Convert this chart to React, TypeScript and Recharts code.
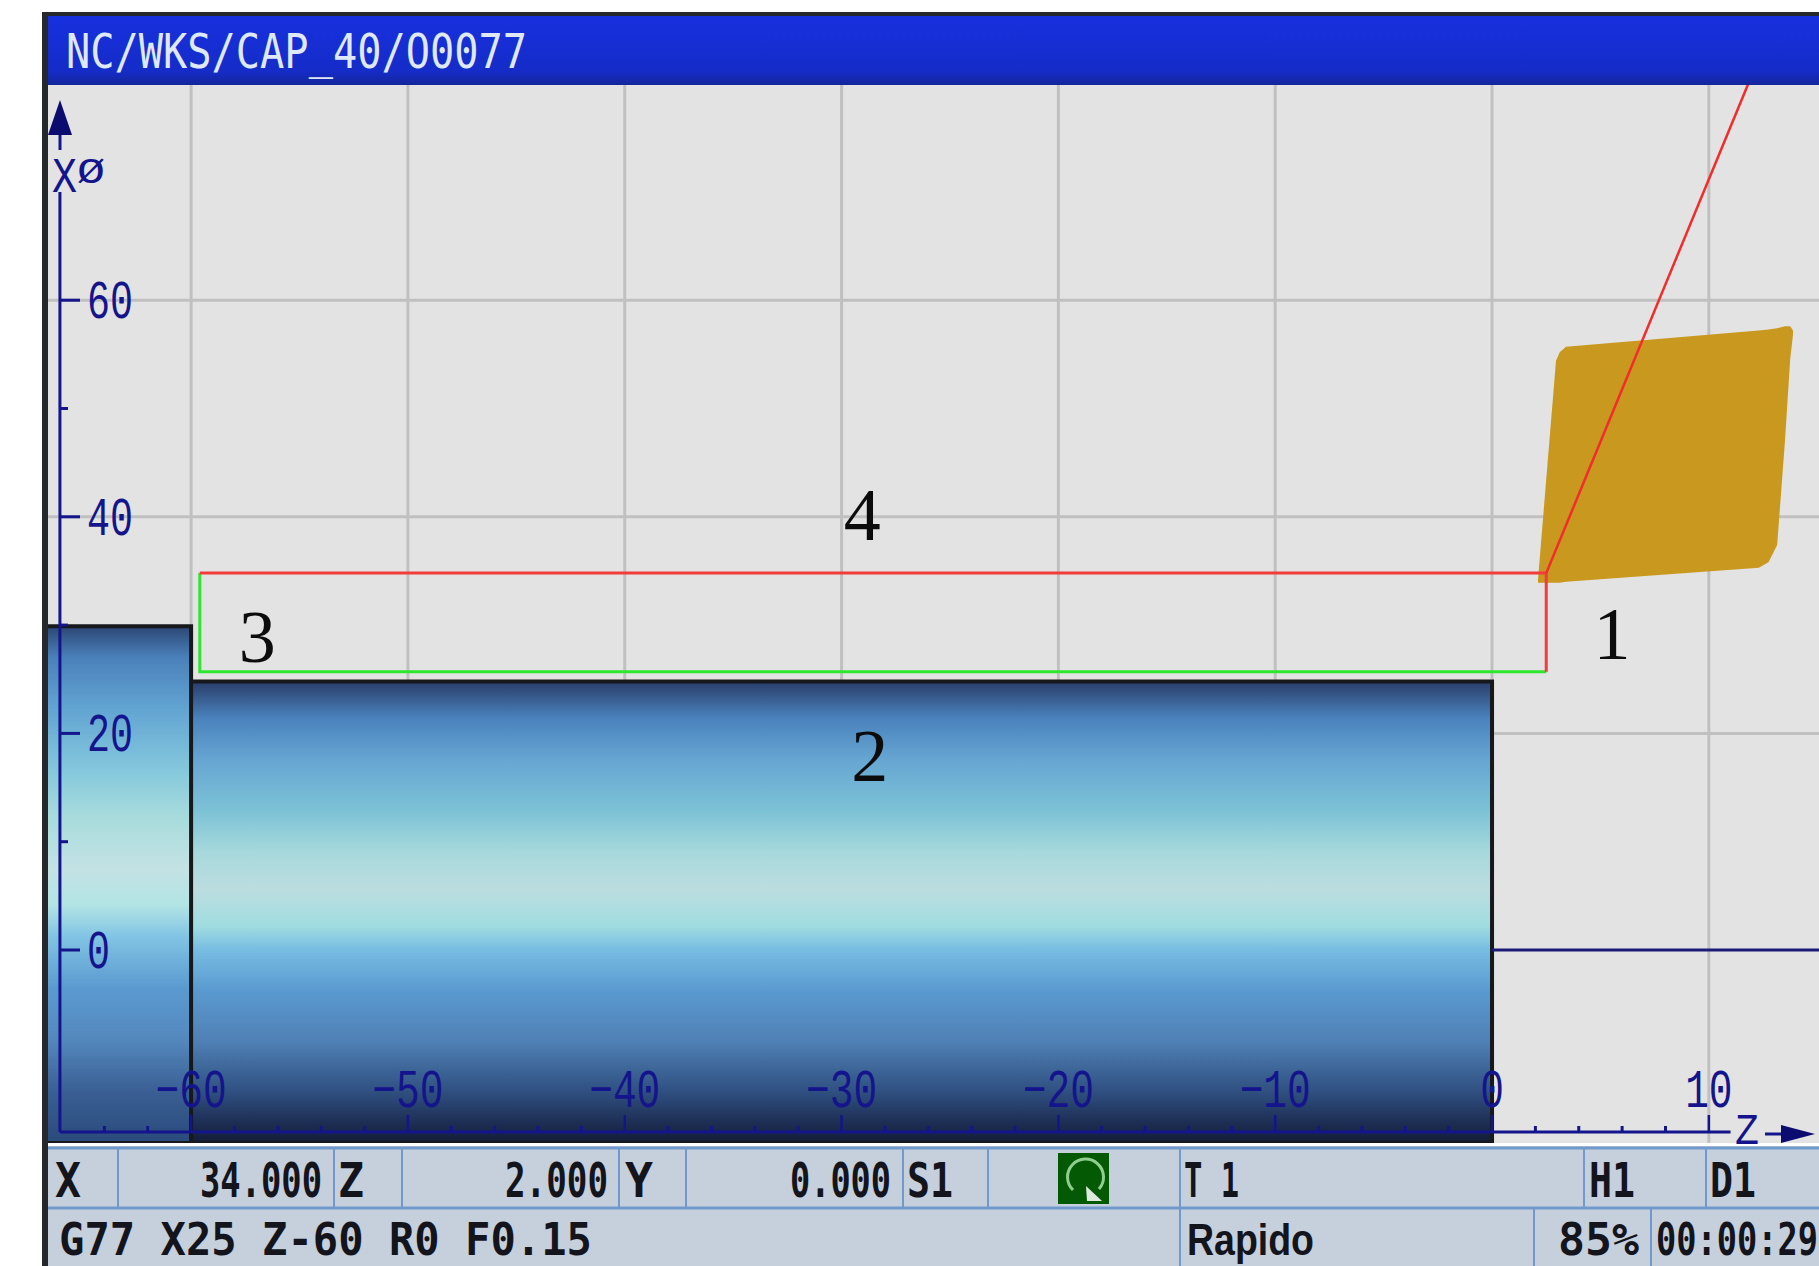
import { Area, CartesianGrid, ComposedChart, Line, ReferenceDot, ReferenceLine, XAxis, YAxis } from 'recharts';

// axis ranges (Z is tool travel, X is diameter)
const zDomain = [-66.6, 15.08];
const xDomain = [-17.82, 79.87];
const zGrid = [-60, -50, -40, -30, -20, -10, 0, 10];
const xGrid = [60, 40, 20];
const zTicks = [-64, -62, -60, -58, -56, -54, -52, -50, -48, -46, -44, -42, -40, -38, -36, -34, -32, -30, -28, -26, -24, -22, -20, -18, -16, -14, -12, -10, -8, -6, -4, -2, 0, 2, 4, 6, 8, 10];
const xTicks = [60, 50, 40, 30, 20, 10, 0];

// stock
const chuckStock = [
  { z: -66.6, x: 29.9 },
  { z: -60, x: 29.9 },
];
const turnedStock = [
  { z: -60, x: 24.8 },
  { z: 0, x: 24.8 },
];
const chuckOutline = [
  { z: -66.6, x: 29.9 },
  { z: -60, x: 29.9 },
  { z: -60, x: -17.82 },
];
const turnedOutline = [
  { z: -60, x: 24.8 },
  { z: 0, x: 24.8 },
  { z: 0, x: -17.82 },
  { z: -66.6, x: -17.82 },
];

// tool paths
const cutPath = [
  { z: 2.5, x: 25.7 },
  { z: -59.6, x: 25.7 },
  { z: -59.6, x: 34.8 },
];
const rapidPath = [
  { z: -59.6, x: 34.8 },
  { z: 2.5, x: 34.8 },
  { z: 2.5, x: 25.7 },
];
const approachPath = [
  { z: 2.5, x: 34.8 },
  { z: 11.8, x: 79.9 },
];

// insert outline, low and high edge at each z
const insert = [
  { z: 2.12, range: [33.9, 34.2] },
  { z: 2.95, range: [33.9, 54.4] },
  { z: 3.12, range: [33.9, 55.2] },
  { z: 3.41, range: [34.0, 55.7] },
  { z: 12.3, range: [35.3, 57.2] },
  { z: 12.75, range: [35.8, 57.3] },
  { z: 13.15, range: [37.4, 57.4] },
  { z: 13.51, range: [47.0, 57.6] },
  { z: 13.75, range: [54.5, 57.6] },
  { z: 13.88, range: [56.8, 57.2] },
];

const pathLabels = [
  { text: '1', z: 5.53, x: 29.3 },
  { text: '2', z: -28.7, x: 18.0 },
  { text: '3', z: -56.95, x: 29.0 },
  { text: '4', z: -29.05, x: 40.3 },
];

const NAVY = '#14148c';
const LABEL_FONT = '"Liberation Mono", monospace';
const STATUS_FONT = '"DejaVu Sans Mono", monospace';
const LINE_BLUE = '#7299cb';

function ZTick({ x, y, payload }: any) {
  const v = payload.value;
  const major = v % 10 === 0;
  const label = String(v).replace('-', '\u2212');
  const w = label.length * 23.7;
  return (
    <g>
      <line x1={x} x2={x} y1={y - 11} y2={y - (major ? 28 : 17)} stroke={NAVY} strokeWidth={major ? 2.5 : 3} />
      {major && (
        <text x={x - w / 2} y={y - 36} fontFamily={LABEL_FONT} fontSize={54} fill={NAVY} textLength={w} lengthAdjust="spacingAndGlyphs">
          {label}
        </text>
      )}
    </g>
  );
}

function XTick({ x, y, payload }: any) {
  const v = payload.value;
  const major = v % 20 === 0;
  const label = String(v);
  return (
    <g>
      <line x1={x + 12} x2={x + (major ? 32 : 20)} y1={y} y2={y} stroke={NAVY} strokeWidth={3} />
      {major && (
        <text x={x + 39} y={y + 18} fontFamily={LABEL_FONT} fontSize={54} fill={NAVY} textLength={label.length * 23} lengthAdjust="spacingAndGlyphs">
          {label}
        </text>
      )}
    </g>
  );
}

function Status({ x, w, y, text, size = 48, font = STATUS_FONT }: any) {
  return (
    <text x={x} y={y} fontFamily={font} fontWeight="bold" fontSize={size} fill="#14141c" textLength={w} lengthAdjust="spacingAndGlyphs">
      {text}
    </text>
  );
}

function StatusBar() {
  const row1 = [118, 334, 402, 619, 686, 903, 988, 1180, 1584, 1706];
  const row2 = [1180, 1534, 1651];
  return (
    <g>
      <rect x={48} y={1146} width={1771} height={120} fill="#c5d0dc" />
      <line x1={48} x2={1819} y1={1148} y2={1148} stroke={LINE_BLUE} strokeWidth={3} />
      <line x1={48} x2={1819} y1={1208} y2={1208} stroke={LINE_BLUE} strokeWidth={3} />
      {row1.map((vx) => (
        <line key={vx} x1={vx} x2={vx} y1={1148} y2={1208} stroke={LINE_BLUE} strokeWidth={2} />
      ))}
      {row2.map((vx) => (
        <line key={vx} x1={vx} x2={vx} y1={1208} y2={1266} stroke={LINE_BLUE} strokeWidth={2} />
      ))}
      <Status x={55} w={26} y={1197} text="X" />
      <Status x={200} w={122} y={1197} text="34.000" />
      <Status x={338} w={26} y={1197} text="Z" />
      <Status x={505} w={103} y={1197} text="2.000" />
      <Status x={625} w={28} y={1197} text="Y" />
      <Status x={790} w={101} y={1197} text="0.000" />
      <Status x={907} w={46} y={1197} text="S1" />
      <Status x={1184} w={55} y={1197} text="T 1" />
      <Status x={1589} w={46} y={1197} text="H1" />
      <Status x={1710} w={46} y={1197} text="D1" />
      <Status x={59} w={533} y={1255} size={44} text="G77 X25 Z-60 R0 F0.15" />
      <Status x={1187} w={127} y={1255} size={44} text="Rapido" font='"Liberation Sans", sans-serif' />
      <Status x={1558} w={81} y={1255} size={44} text="85%" />
      <Status x={1656} w={162} y={1255} size={44} text="00:00:29" />
      {/* spindle direction icon */}
      <rect x={1058} y={1153} width={51} height={51} fill="#045a04" />
      <path d="M1073 1190 A18 18 0 1 1 1099 1189" fill="none" stroke="#8fce8f" strokeWidth={3} />
      <polygon points="1086,1186 1102,1201 1087,1201" fill="#dfeadf" />
    </g>
  );
}

export default function App() {
  return (
    <div style={{ position: 'absolute', left: 0, top: 0, width: 1819, height: 1266, background: '#fff', overflow: 'hidden' }}>
      <div style={{ position: 'absolute', left: 48, top: 85 }}>
        <ComposedChart width={1771} height={1058} margin={{ top: 0, right: 0, bottom: 0, left: 0 }}>
          <defs>
            <linearGradient id="chuckFill" x1="0" y1="0" x2="0" y2="1">
              <stop offset="0" stopColor="#2c4674" />
              <stop offset="0.06" stopColor="#4a80ba" />
              <stop offset="0.16" stopColor="#62a4d2" />
              <stop offset="0.28" stopColor="#85c8dc" />
              <stop offset="0.37" stopColor="#a8dcdc" />
              <stop offset="0.47" stopColor="#c4e2e4" />
              <stop offset="0.54" stopColor="#b2e4e4" />
              <stop offset="0.6" stopColor="#82c4e4" />
              <stop offset="0.7" stopColor="#5a9ad0" />
              <stop offset="0.8" stopColor="#5488bd" />
              <stop offset="0.9" stopColor="#3a5f94" />
              <stop offset="1" stopColor="#2a4a7a" />
            </linearGradient>
            <linearGradient id="turnedFill" x1="0" y1="0" x2="0" y2="1">
              <stop offset="0" stopColor="#2a3d6a" />
              <stop offset="0.08" stopColor="#4a82bd" />
              <stop offset="0.17" stopColor="#66a6d2" />
              <stop offset="0.28" stopColor="#7cc2d6" />
              <stop offset="0.37" stopColor="#a7d9dc" />
              <stop offset="0.45" stopColor="#bcdde0" />
              <stop offset="0.53" stopColor="#a0dde0" />
              <stop offset="0.58" stopColor="#78bde2" />
              <stop offset="0.67" stopColor="#5a9ad0" />
              <stop offset="0.78" stopColor="#4f80b5" />
              <stop offset="0.89" stopColor="#2f4f80" />
              <stop offset="0.95" stopColor="#1f3158" />
              <stop offset="1" stopColor="#121c35" />
            </linearGradient>
          </defs>
          <CartesianGrid
            fill="#e3e3e3"
            stroke="#c0c0c0"
            strokeWidth={3}
            verticalValues={zGrid}
            horizontalValues={xGrid}
          />
          <Area data={chuckStock} dataKey="x" baseValue={xDomain[0]} fill="url(#chuckFill)" fillOpacity={1} stroke="none" isAnimationActive={false} />
          <Area data={turnedStock} dataKey="x" baseValue={xDomain[0]} fill="url(#turnedFill)" fillOpacity={1} stroke="none" isAnimationActive={false} />
          <Line data={chuckOutline} dataKey="x" stroke="#16181c" strokeWidth={4} dot={false} isAnimationActive={false} />
          <Line data={turnedOutline} dataKey="x" stroke="#16181c" strokeWidth={4} dot={false} isAnimationActive={false} />
          <ReferenceLine segment={[{ x: 0, y: 0 }, { x: zDomain[1], y: 0 }]} stroke="#1c1c78" strokeWidth={3} />
          <Area data={insert} dataKey="range" fill="#c9981e" fillOpacity={1} stroke="none" isAnimationActive={false} />
          <Line data={cutPath} dataKey="x" stroke="#2ee62e" strokeWidth={3} dot={false} isAnimationActive={false} />
          <Line data={rapidPath} dataKey="x" stroke="#f23c3c" strokeWidth={3} dot={false} isAnimationActive={false} />
          <Line data={approachPath} dataKey="x" stroke="#f22c2c" strokeWidth={2.5} dot={false} isAnimationActive={false} />
          <ReferenceLine segment={[{ x: -66.05, y: -16.8 }, { x: 11.0, y: -16.8 }]} stroke={NAVY} strokeWidth={3} />
          <ReferenceLine segment={[{ x: -66.05, y: -16.8 }, { x: -66.05, y: 70.0 }]} stroke={NAVY} strokeWidth={3} />
          {pathLabels.map((p) => (
            <ReferenceDot
              key={p.text}
              x={p.z}
              y={p.x}
              r={0}
              stroke="none"
              label={{ value: p.text, position: 'center', fontFamily: '"Liberation Serif", serif', fontSize: 74, fill: '#0c0c0c' }}
            />
          ))}
          <XAxis
            dataKey="z"
            type="number"
            domain={zDomain}
            allowDataOverflow
            ticks={zTicks}
            interval={0}
            mirror
            axisLine={false}
            tickLine={false}
            tickSize={0}
            tickMargin={0}
            tick={ZTick}
          />
          <YAxis
            type="number"
            domain={xDomain}
            allowDataOverflow
            ticks={xTicks}
            interval={0}
            mirror
            axisLine={false}
            tickLine={false}
            tickSize={0}
            tickMargin={0}
            tick={XTick}
          />
        </ComposedChart>
      </div>
      <svg width={1819} height={1266} style={{ position: 'absolute', left: 0, top: 0, pointerEvents: 'none' }}>
        <defs>
          <linearGradient id="titleFill" x1="0" y1="0" x2="0" y2="1">
            <stop offset="0" stopColor="#1730de" />
            <stop offset="0.8" stopColor="#152cc8" />
            <stop offset="1" stopColor="#14259a" />
          </linearGradient>
        </defs>
        {/* window frame and title */}
        <rect x={42} y={12} width={1777} height={4} fill="#26282c" />
        <rect x={48} y={16} width={1771} height={69} fill="url(#titleFill)" />
        <text x={66} y={68} fontFamily={STATUS_FONT} fontSize={48} fill="#dfe8f6" textLength={461} lengthAdjust="spacingAndGlyphs">
          NC/WKS/CAP_40/O0077
        </text>
        {/* axis arrows and names */}
        <line x1={60} x2={60} y1={130} y2={150} stroke={NAVY} strokeWidth={3} />
        <polygon points="60,100 72,135 48,135" fill="#0c0c70" />
        <text x={52} y={192} fontFamily={LABEL_FONT} fontSize={50} fill={NAVY} textLength={25} lengthAdjust="spacingAndGlyphs">X</text>
        <text x={77} y={183} fontFamily={LABEL_FONT} fontSize={36} fill={NAVY} textLength={28} lengthAdjust="spacingAndGlyphs">Ø</text>
        <text x={1735} y={1144} fontFamily={LABEL_FONT} fontSize={44} fill={NAVY} textLength={24} lengthAdjust="spacingAndGlyphs">Z</text>
        <line x1={1765} x2={1785} y1={1134} y2={1134} stroke={NAVY} strokeWidth={3} />
        <polygon points="1781,1125 1815,1134 1781,1143" fill="#0c0c70" />
        <StatusBar />
        <rect x={42} y={12} width={6} height={1254} fill="#26282c" />
      </svg>
    </div>
  );
}
